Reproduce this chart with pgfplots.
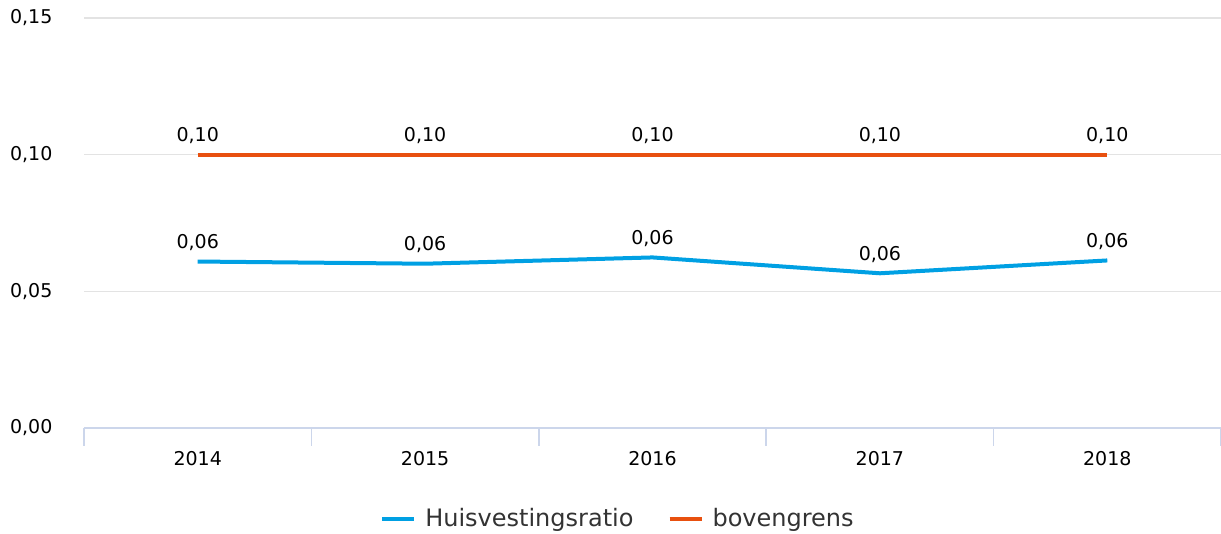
\documentclass[border=0pt]{standalone}
\usepackage{pgfplots}
\pgfplotsset{compat=1.18}
\usepackage{fontspec}
\setmainfont{DejaVu Sans}
\definecolor{cblue}{HTML}{00A0E3}
\definecolor{corange}{HTML}{E8500F}
\definecolor{cgrid}{HTML}{E3E3E3}
\definecolor{caxis}{HTML}{CCD6EB}
\definecolor{ctext}{HTML}{333333}
\begin{document}
\begin{tikzpicture}
\useasboundingbox (0,0) rectangle (610.5pt,267pt);
\begin{axis}[
  at={(42pt,53pt)}, anchor=south west,
  scale only axis, width=568.5pt, height=205pt,
  xmin=-0.5, xmax=4.5, ymin=0, ymax=0.15,
  xtick={0,1,2,3,4}, xticklabels={2014,2015,2016,2017,2018},
  minor xtick={-0.5,0.5,1.5,2.5,3.5,4.5},
  ytick={0,0.05,0.10,0.15},
  yticklabel style={/tikz/xshift=-8pt, /pgf/number format/.cd, fixed, fixed zerofill, precision=2, use comma},
  /pgf/number format/assume math mode=true,
  ticklabel style={font=\fontsize{9.5}{11}\selectfont, text=black},
  xticklabel style={yshift=-4pt},
  axis x line*=bottom,
  axis y line*=left,
  y axis line style={draw=none},
  x axis line style={caxis, line width=0.8pt, -},
  major x tick style={draw=none},
  major y tick style={draw=none},
  minor x tick style={caxis, line width=0.8pt},
  minor tick length=9pt,
  tick align=outside,
  ymajorgrids, grid style={cgrid, line width=0.7pt},
  clip=false,
  nodes near coords,
  nodes near coords style={font=\fontsize{9.5}{11}\selectfont, text=black, anchor=south, yshift=1pt,
    /pgf/number format/.cd, fixed, fixed zerofill, precision=2, use comma},
  legend style={at={(0.4705,-0.222)}, anchor=center, draw=none, fill=none,
    legend columns=2, font=\fontsize{12}{14}\selectfont\color{ctext},
    /tikz/every even column/.append style={column sep=15pt}},
  legend image code/.code={\draw[#1, line width=2pt] (0pt,0pt) -- (16pt,0pt); \path (18.5pt,0pt);},
]
\addplot[cblue, line width=2pt, mark=none] coordinates {(0,0.0609) (1,0.0601) (2,0.0624) (3,0.0566) (4,0.0613)};
\addlegendentry{Huisvestingsratio}
\addplot[corange, line width=2pt, mark=none] coordinates {(0,0.10) (1,0.10) (2,0.10) (3,0.10) (4,0.10)};
\addlegendentry{bovengrens}
\end{axis}
\end{tikzpicture}
\end{document}
